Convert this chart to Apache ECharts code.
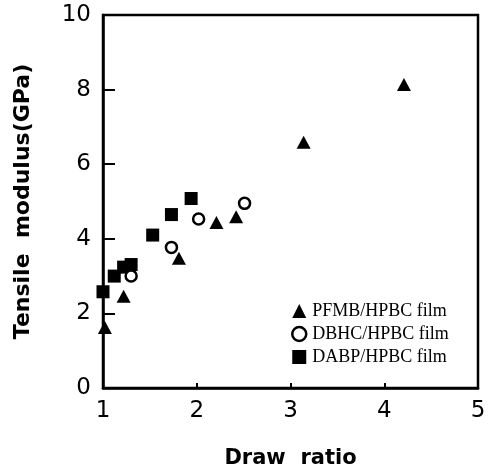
<!DOCTYPE html>
<html>
<head>
<meta charset="utf-8">
<script src="https://cdn.jsdelivr.net/npm/echarts@6/dist/echarts.min.js"></script>
<style>
html,body{margin:0;padding:0;background:#fff;}
#chart{width:491px;height:474px;}
</style>
</head>
<body>
<div id="chart"></div>
<script>
const seriesNames = ['PFMB/HPBC film', 'DBHC/HPBC film', 'DABP/HPBC film'];
const pfmbData = [[1.02,1.62],[1.22,2.46],[1.81,3.48],[2.21,4.44],[2.42,4.59],[3.14,6.59],[4.21,8.14]];
const dbhcData = [[1.30,3.0],[1.73,3.77],[2.02,4.53],[2.51,4.95]];
const dabpData = [[1.0,2.58],[1.12,3.0],[1.22,3.24],[1.30,3.31],[1.53,4.10],[1.73,4.65],[1.94,5.08]];
const xTitle = 'Draw  ratio';
const yTitle = 'Tensile  modulus(GPa)';

const chart = echarts.init(document.getElementById('chart'), null, {renderer: 'canvas'});
chart.setOption({
  backgroundColor: '#fff',
  animation: false,
  grid: {left: 103, right: 13, top: 15, bottom: 83, show: true, borderColor: '#000', borderWidth: 2.5, backgroundColor: 'transparent'},
  legend: {
    orient: 'vertical', left: 286, top: 297,
    itemWidth: 14, itemHeight: 14, itemGap: 5, selectedMode: false,
    textStyle: {fontFamily: 'Liberation Serif', fontSize: 18, color: '#000', padding: [0,0,0,1]},
    data: [
      {name: seriesNames[0], icon: 'triangle'},
      {name: seriesNames[1], icon: 'circle', itemStyle: {color: '#fff', borderColor: '#000', borderWidth: 2.5}},
      {name: seriesNames[2], icon: 'rect'}
    ]
  },
  xAxis: {
    type: 'value', min: 1, max: 5, interval: 1,
    name: xTitle, nameLocation: 'middle', nameGap: 60,
    nameTextStyle: {fontFamily: 'DejaVu Sans', fontWeight: 'bold', fontSize: 21, color: '#000'},
    axisLine: {show: true, lineStyle: {color: '#000', width: 2.5}},
    axisTick: {show: true, inside: true, length: 5, lineStyle: {color: '#000', width: 2}},
    axisLabel: {fontFamily: 'DejaVu Sans', fontSize: 23, color: '#000', margin: 12},
    splitLine: {show: false}
  },
  yAxis: {
    type: 'value', min: 0, max: 10, interval: 2,
    name: yTitle, nameLocation: 'middle', nameGap: 69, nameRotate: 90,
    nameTextStyle: {fontFamily: 'DejaVu Sans', fontWeight: 'bold', fontSize: 22, color: '#000'},
    axisLine: {show: true, lineStyle: {color: '#000', width: 2.5}},
    axisTick: {show: true, inside: true, length: 12, lineStyle: {color: '#000', width: 2}},
    axisLabel: {fontFamily: 'DejaVu Sans', fontSize: 23, color: '#000', margin: 12},
    splitLine: {show: false}
  },
  series: [
    {name: seriesNames[2], type: 'scatter', data: dabpData, symbol: 'rect', symbolSize: 13, clip: false,
     itemStyle: {color: '#000', opacity: 1}, z: 2},
    {name: seriesNames[1], type: 'scatter', data: dbhcData, symbol: 'circle', symbolSize: 11, clip: false,
     itemStyle: {color: '#fff', borderColor: '#000', borderWidth: 2.5, opacity: 1}, z: 3},
    {name: seriesNames[0], type: 'scatter', data: pfmbData, symbol: 'triangle', symbolSize: [14, 13], clip: false,
     itemStyle: {color: '#000', opacity: 1}, z: 4}
  ]
});
</script>
</body>
</html>
